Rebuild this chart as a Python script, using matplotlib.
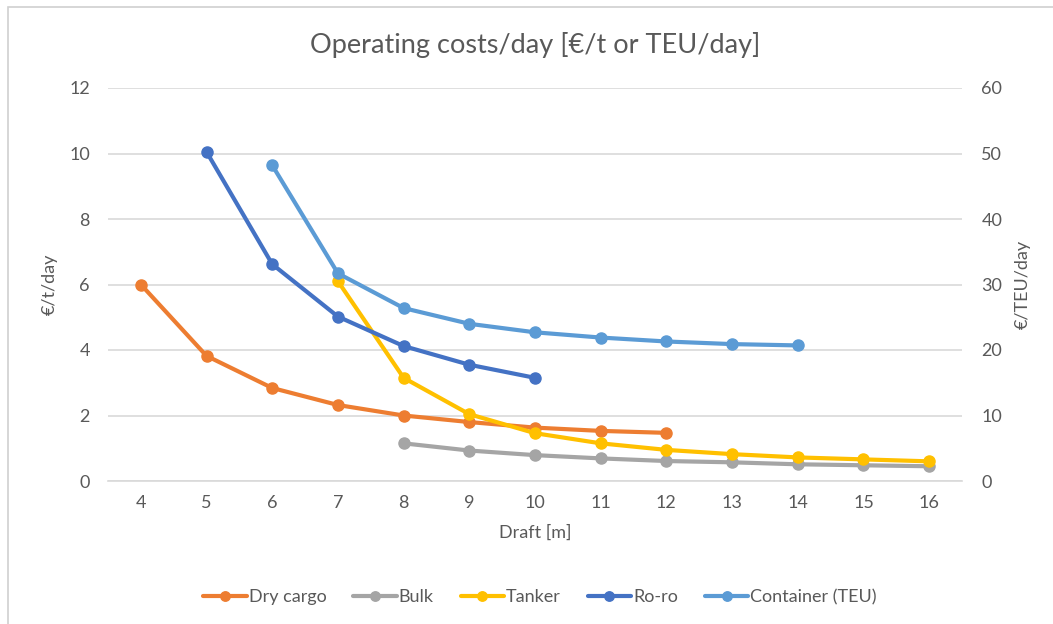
import matplotlib.pyplot as plt
from matplotlib.patches import Rectangle

plt.rcParams['font.family'] = ['Lato', 'DejaVu Sans']

drafts = [4, 5, 6, 7, 8, 9, 10, 11, 12, 13, 14, 15, 16]

dry_x = [4, 5, 6, 7, 8, 9, 10, 11, 12]
dry_cargo = [6.0, 3.82, 2.84, 2.32, 2.0, 1.8, 1.63, 1.53, 1.47]

bulk_x = [8, 9, 10, 11, 12, 13, 14, 15, 16]
bulk = [1.15, 0.93, 0.79, 0.69, 0.61, 0.57, 0.51, 0.48, 0.45]

tanker_x = [7, 8, 9, 10, 11, 12, 13, 14, 15, 16]
tanker = [6.1, 3.15, 2.04, 1.46, 1.15, 0.95, 0.82, 0.72, 0.66, 0.6]

roro_x = [5, 6, 7, 8, 9, 10]
roro = [10.05, 6.62, 5.02, 4.12, 3.55, 3.15]

cont_x = [6, 7, 8, 9, 10, 11, 12, 13, 14]
container = [48.2, 31.7, 26.4, 24.0, 22.7, 21.9, 21.3, 20.9, 20.7]

TXT = '#595959'
GRID = '#d9d9d9'
FS = 13

fig = plt.figure(figsize=(10.53, 6.24), dpi=100)
ax = fig.add_axes([108 / 1053, 1 - 481 / 624, (962 - 108) / 1053, (481 - 88) / 624])
ax2 = ax.twinx()

# chart area border (left/top visible)
fig.patches.append(Rectangle((8 / 1053, -0.1), 1.2, 1 - 7 / 624 + 0.1,
                             transform=fig.transFigure, fill=False,
                             edgecolor='#d0d0d0', linewidth=1.2))

kw = dict(linewidth=3, marker='o', markersize=8, solid_capstyle='round')
h1, = ax.plot(dry_x, dry_cargo, color='#ED7D31', label='Dry cargo', **kw)
h2, = ax.plot(bulk_x, bulk, color='#A5A5A5', label='Bulk', **kw)
h3, = ax.plot(tanker_x, tanker, color='#FFC000', label='Tanker', **kw)
h4, = ax.plot(roro_x, roro, color='#4472C4', label='Ro-ro', **kw)
h5, = ax2.plot(cont_x, container, color='#5B9BD5', label='Container (TEU)', **kw)

ax.set_xlim(3.5, 16.5)
ax.set_ylim(0, 12)
ax2.set_ylim(0, 60)
ax.set_xticks(drafts)
ax.set_yticks(range(0, 13, 2))
ax2.set_yticks(range(0, 61, 10))

ax.grid(axis='y', color=GRID, linewidth=1.2)
ax.set_axisbelow(True)
for a in (ax, ax2):
    for s in a.spines.values():
        s.set_visible(False)
    a.tick_params(length=0, labelsize=FS, colors=TXT)
ax.spines['bottom'].set_visible(True)
ax.spines['bottom'].set_color(GRID)
ax.spines['bottom'].set_linewidth(1.2)
ax.tick_params(axis='x', pad=10)
ax.tick_params(axis='y', pad=13)
ax2.tick_params(axis='y', pad=14)

ax.set_xlabel('Draft [m]', fontsize=FS, color=TXT, labelpad=10)
ax.set_ylabel('€/t/day', fontsize=FS, color=TXT, labelpad=8)
ax2.set_ylabel('€/TEU/day', fontsize=FS, color=TXT, labelpad=9)

fig.text(535 / 1053, 1 - 45 / 624, 'Operating costs/day [€/t or TEU/day]',
         ha='center', va='center', fontsize=19.5, color=TXT)

fig.legend(handles=[h1, h2, h3, h4, h5], loc='center', ncol=5,
           bbox_to_anchor=(540 / 1053, 1 - 597 / 624), frameon=False,
           fontsize=FS, labelcolor=TXT, handlelength=2.4, handletextpad=0.1,
           columnspacing=1.5, markerscale=0.85)

fig.savefig('out.png', dpi=100)
